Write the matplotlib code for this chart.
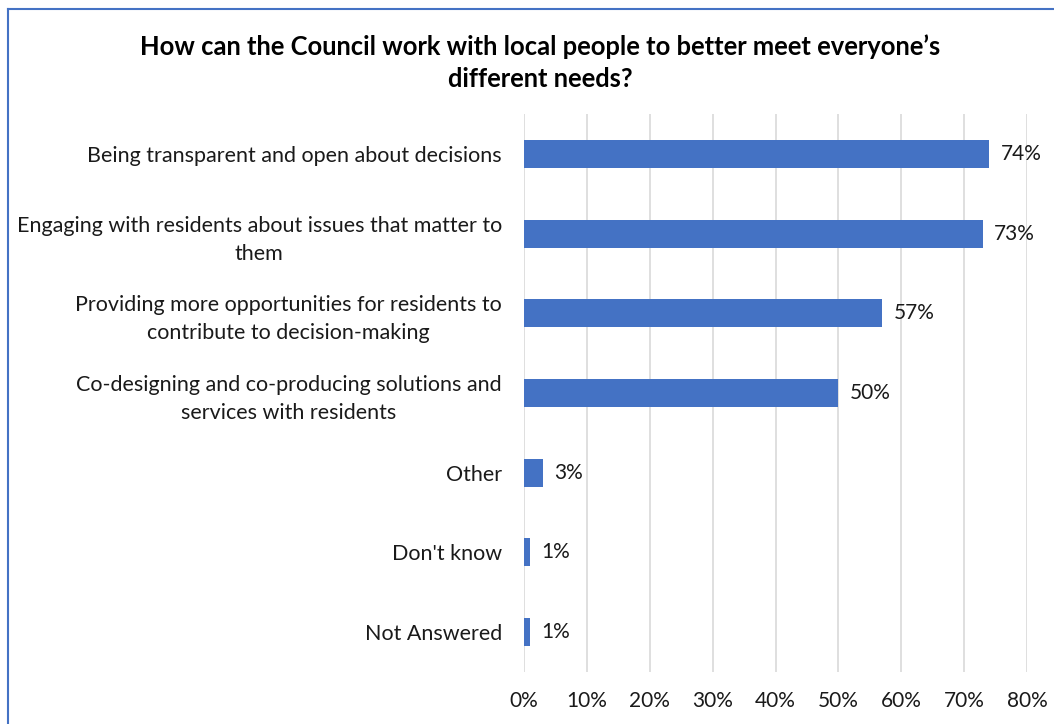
import matplotlib
matplotlib.use("Agg")
import matplotlib.pyplot as plt
from matplotlib.lines import Line2D
from matplotlib.ticker import FuncFormatter

categories = [
    "Being transparent and open about decisions",
    "Engaging with residents about issues that matter to\nthem",
    "Providing more opportunities for residents to\ncontribute to decision-making",
    "Co-designing and co-producing solutions and\nservices with residents",
    "Other",
    "Don't know",
    "Not Answered",
]
values = [74, 73, 57, 50, 3, 1, 1]
x_ticks = [0, 10, 20, 30, 40, 50, 60, 70, 80]
title = "How can the Council work with local people to better meet everyone\u2019s\ndifferent needs?"

plt.rcParams['font.family'] = ['Lato', 'DejaVu Sans']

fig = plt.figure(figsize=(10.54, 7.24), dpi=100)
ax = fig.add_axes([524/1054, 1-672/724, 503/1054, 558/724])

pos = list(range(len(categories)))
ax.barh(pos, values, height=0.35, color="#4472C4", zorder=3)
ax.set_ylim(len(categories)-0.5, -0.5)
ax.set_xlim(0, 80)
ax.set_xticks(x_ticks)
ax.xaxis.set_major_formatter(FuncFormatter(lambda v, p: f"{v:.0f}%"))
ax.set_yticks(pos)
ax.set_yticklabels(categories, fontsize=15.5, color="#1a1a1a")
for lbl in ax.get_yticklabels():
    lbl.set_horizontalalignment("right")
    lbl.set_multialignment("center")
    lbl.set_linespacing(1.5)
ax.tick_params(axis="x", labelsize=15, colors="#1a1a1a", length=0, pad=14)
ax.tick_params(axis="y", length=0, pad=16)
ax.grid(axis="x", color="#D9D9D9", linewidth=1.2, zorder=0)
for s in ax.spines.values():
    s.set_visible(False)

for i, v in enumerate(values):
    ax.annotate(f"{v}%", (v, i), xytext=(8, 0), textcoords="offset points",
                va="center", ha="left", fontsize=15, color="#1a1a1a")

fig.text(540/1054, 1-63/724, title, ha="center", va="center", fontsize=18.4,
         fontweight="bold", color="#000000", linespacing=1.4)

fig.add_artist(Line2D([8/1054, 8/1054], [0, 1-9/724], transform=fig.transFigure,
                      color="#4472C4", linewidth=1.5))
fig.add_artist(Line2D([8/1054, 1], [1-9/724, 1-9/724], transform=fig.transFigure,
                      color="#4472C4", linewidth=1.5))

fig.savefig("out.png", dpi=100)
